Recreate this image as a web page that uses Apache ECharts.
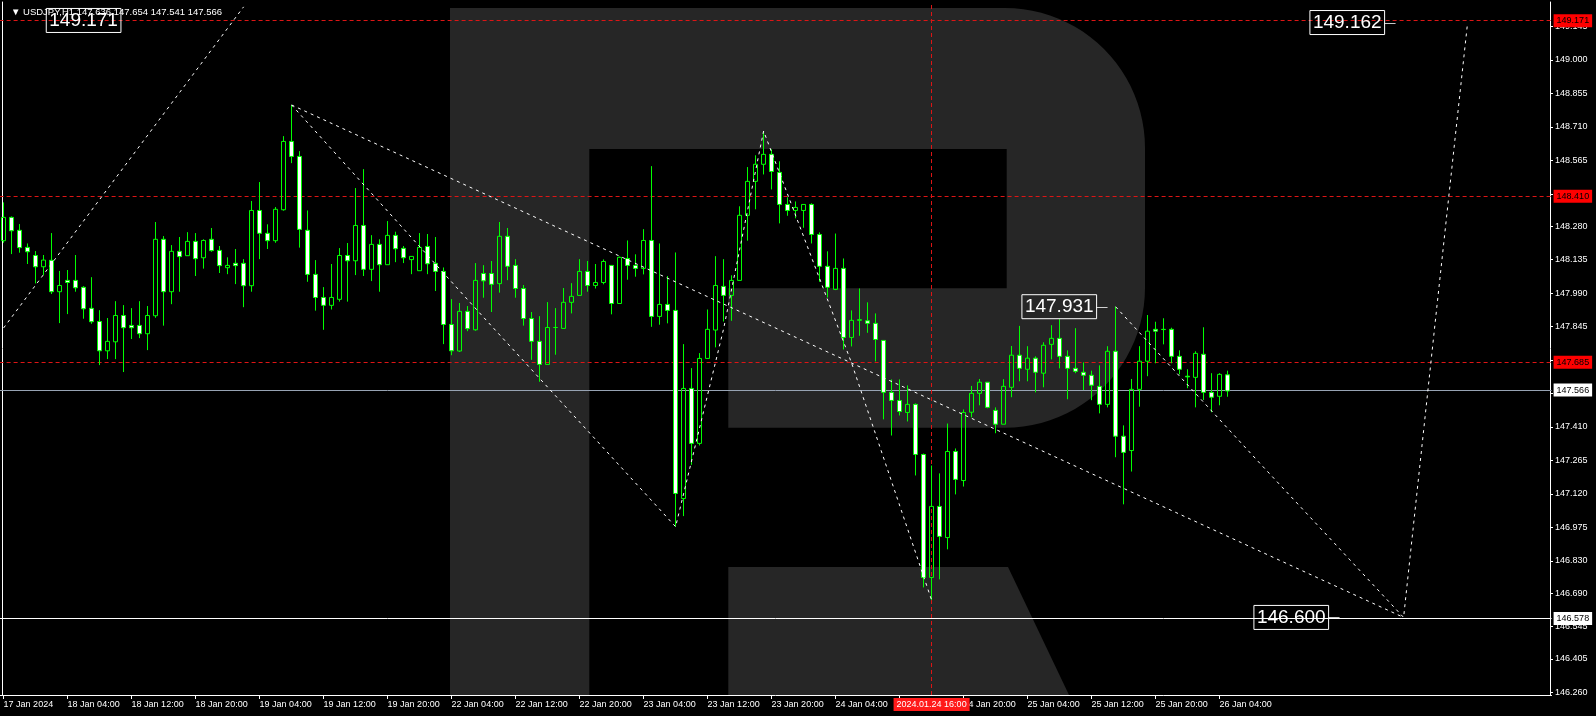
<!DOCTYPE html>
<html><head><meta charset="utf-8">
<script src="https://cdn.jsdelivr.net/npm/echarts@6/dist/echarts.min.js"></script>
<style>html,body{margin:0;padding:0;background:#000;}#c{width:1596px;height:716px;}</style>
</head><body><div id="c"></div>
<script>
// ---------- data ----------
const symbolName = 'USDJPY,H1';
const yearLabel = '2024';
const opens = [148.217,148.318,148.262,148.188,148.153,148.104,148.132,147.996,148.045,148.045,
148.015,147.924,147.867,147.740,147.779,147.893,147.850,147.850,147.814,147.892,
148.223,147.996,148.171,148.152,148.214,148.143,148.223,148.175,148.100,148.119,
148.119,148.022,148.348,148.249,148.217,148.351,148.647,148.582,148.262,148.071,
147.971,147.937,147.963,148.153,148.130,148.283,148.093,148.201,148.113,148.240,
148.184,148.135,148.087,148.192,148.119,148.084,147.854,147.739,147.911,147.831,
148.075,148.075,148.031,148.236,148.110,148.010,147.880,147.781,147.681,147.841,
147.837,147.950,147.980,148.084,148.023,148.036,148.110,147.945,148.140,148.110,
148.097,148.218,147.889,147.941,147.915,147.100,147.577,147.339,147.707,147.830,
148.019,147.980,148.045,148.327,148.474,148.548,148.591,148.513,148.374,148.348,
148.348,148.374,148.244,148.106,148.006,148.097,147.798,147.872,147.870,147.859,
147.785,147.560,147.525,147.473,147.508,147.291,146.758,147.066,146.931,147.304,
147.178,147.474,147.556,147.604,147.482,147.422,147.582,147.721,147.660,147.708,
147.643,147.768,147.794,147.716,147.664,147.647,147.634,147.586,147.508,147.738,
147.370,147.308,147.573,147.695,147.833,147.833,147.833,147.716,147.630,147.625,
147.725,147.560,147.543,147.636];
const highs = [148.383,148.322,148.289,148.205,148.172,148.155,148.250,148.086,148.090,148.155,
148.020,148.059,147.916,147.882,147.955,147.938,147.925,147.955,147.934,148.298,
148.237,148.198,148.233,148.254,148.250,148.223,148.272,148.194,148.145,148.181,
148.137,148.389,148.471,148.288,148.363,148.670,148.805,148.605,148.348,148.133,
148.016,148.116,148.185,148.207,148.445,148.527,148.241,148.223,148.302,148.256,
148.194,148.150,148.250,148.246,148.233,148.101,147.964,147.947,147.934,148.120,
148.111,148.129,148.298,148.272,148.137,148.025,147.908,147.890,147.951,147.925,
148.012,148.033,148.137,148.129,148.116,148.136,148.110,148.148,148.218,148.158,
148.267,148.540,148.205,148.064,148.166,147.769,147.665,147.730,147.919,148.150,
148.137,148.067,148.366,148.536,148.587,148.692,148.613,148.561,148.405,148.387,
148.374,148.379,148.253,148.171,148.248,148.140,147.915,148.010,147.950,147.902,
147.785,147.616,147.616,147.590,147.512,147.295,147.243,147.209,147.425,147.317,
147.486,147.588,147.618,147.605,147.495,147.617,147.761,147.848,147.760,147.716,
147.777,147.851,147.877,147.742,147.838,147.690,147.654,147.677,147.760,147.931,
147.417,147.618,147.760,147.895,147.866,147.881,147.840,147.742,147.660,147.738,
147.842,147.643,147.643,147.654];
const lows = [148.208,148.159,148.165,148.116,148.032,148.068,147.986,147.860,147.899,147.996,
147.879,147.857,147.678,147.704,147.704,147.648,147.791,147.795,147.743,147.883,
147.849,147.942,147.996,148.152,148.064,148.096,148.169,148.077,148.072,148.029,
147.929,147.996,148.137,148.181,148.208,148.347,148.553,148.187,148.039,147.914,
147.831,147.919,147.953,147.953,148.068,148.064,148.042,147.996,148.113,148.124,
148.120,148.072,148.087,148.072,147.999,147.769,147.721,147.735,147.825,147.827,
147.970,147.908,147.992,148.046,147.970,147.849,147.701,147.606,147.681,147.723,
147.837,147.902,147.980,147.996,148.010,148.028,147.898,147.945,148.048,148.061,
148.071,147.844,147.853,147.859,146.978,147.024,147.246,147.330,147.707,147.755,
147.867,147.870,148.045,148.217,148.353,148.504,148.439,148.292,148.325,148.314,
148.273,148.205,148.039,147.971,148.003,147.746,147.759,147.805,147.818,147.694,
147.443,147.373,147.460,147.434,147.200,146.715,146.660,146.750,146.880,147.118,
147.152,147.452,147.504,147.491,147.383,147.422,147.539,147.608,147.608,147.560,
147.582,147.703,147.664,147.530,147.643,147.570,147.526,147.469,147.495,147.279,
147.075,147.217,147.498,147.630,147.686,147.768,147.686,147.638,147.578,147.495,
147.527,147.474,147.504,147.541];
const closes = [148.318,148.260,148.187,148.169,148.104,148.133,147.996,148.023,148.036,148.013,
147.922,147.866,147.740,147.781,147.893,147.840,147.840,147.814,147.893,148.223,
147.996,148.171,148.148,148.214,148.139,148.218,148.174,148.109,148.110,148.109,
148.022,148.348,148.249,148.217,148.353,148.647,148.582,148.266,148.071,147.971,
147.937,147.971,148.153,148.130,148.283,148.093,148.201,148.113,148.240,148.182,
148.143,148.149,148.188,148.117,148.084,147.854,147.740,147.911,147.836,148.045,
148.043,148.028,148.236,148.106,148.010,147.880,147.781,147.681,147.841,147.841,
147.950,147.976,148.084,148.023,148.036,148.127,147.945,148.145,148.110,148.097,
148.218,147.889,147.941,147.915,147.122,147.577,147.339,147.707,147.833,148.023,
147.980,148.045,148.327,148.474,148.548,148.591,148.517,148.374,148.348,148.361,
148.374,148.244,148.106,148.015,148.097,147.798,147.872,147.875,147.859,147.789,
147.560,147.525,147.477,147.508,147.291,146.758,147.066,146.936,147.304,147.183,
147.473,147.556,147.604,147.495,147.422,147.586,147.721,147.664,147.708,147.647,
147.764,147.794,147.716,147.664,147.651,147.634,147.591,147.508,147.738,147.370,
147.300,147.573,147.695,147.825,147.825,147.832,147.716,147.660,147.627,147.729,
147.560,147.539,147.638,147.566];

// price axis tick labels
const yTicks = [149.145,149.000,148.855,148.710,148.565,148.420,148.280,148.135,147.990,147.845,
147.700,147.555,147.410,147.265,147.120,146.975,146.830,146.690,146.545,146.405,146.260];
const yMin = 146.249, yMax = 149.251;

// horizontal levels
const redLevels = [149.171, 148.410, 147.685];
const bidLevel = 147.566;
const supportLevel = 146.578;
const crossBarIndex = 116;

// wave / forecast paths: [bar index, price]
const waveOld = [[0,147.839],[30,149.230]];
const waveMain = [[36,148.805],[60,147.885],[84,146.978],[90,147.835],[95,148.692],[106,147.687],[116,146.660]];
const waveTrend = [[36,148.805],[175,146.585]];
const waveForecast = [[139,147.931],[157,147.254],[175,146.585],[179,147.880],[183,149.162]];

// boxed price tags: text, anchor bar, anchor price, connector dash
const priceTags = [
  {text:'149.171', at:10,  price:149.171, dash:false},
  {text:'147.931', at:138, price:147.931, dash:true},
  {text:'149.162', at:174, price:149.162, dash:true},
  {text:'146.600', at:167, price:146.585, dash:true}
];

const barCount = 194; // visible hourly slots incl. future space

// ---------- build ----------
const MON = ['Jan','Feb','Mar','Apr','May','Jun','Jul','Aug','Sep','Oct','Nov','Dec'];
const times = [];
let t = Date.UTC(2024,0,17,20);
while (times.length < barCount) {
  const wd = new Date(t).getUTCDay();
  if (wd !== 0 && wd !== 6) times.push(t);
  t += 3600e3;
}
const p2 = n => String(n).padStart(2,'0');
const cats = times.map(ms => { const d = new Date(ms); return d.getUTCDate()+' '+MON[d.getUTCMonth()]+' '+p2(d.getUTCHours())+':'+p2(d.getUTCMinutes()); });
const lastIdx = opens.length - 1;
const crossDate = new Date(times[crossBarIndex]);
const crossLabel = crossDate.getUTCFullYear()+'.'+p2(crossDate.getUTCMonth()+1)+'.'+p2(crossDate.getUTCDate())+' '+p2(crossDate.getUTCHours())+':'+p2(crossDate.getUTCMinutes());

const FONT = '"Liberation Sans", Arial, sans-serif';
const RED = '#dd1515';

const candles = opens.map((o,i) => [o, closes[i], lows[i], highs[i]]);
const showTick = (idx) => idx % 8 === 0 && idx <= lastIdx;

const tagLabelBase = {fontFamily: FONT, fontSize: 9, padding: [2,3,1,3], lineHeight: 10};

const header = '\u25BC ' + symbolName + ' ' + [opens[lastIdx], highs[lastIdx], lows[lastIdx], closes[lastIdx]].map(v=>v.toFixed(3)).join(' ');

// watermark logo outline (decorative)
function arcPts(cx, cy, r, a0, a1, n){
  const out = [];
  for (let k=0;k<=n;k++){ const a = a0 + (a1-a0)*k/n; out.push([cx + r*Math.cos(a), cy + r*Math.sin(a)]); }
  return out;
}
const logoBody = [[450,8],[1005,8], ...arcPts(1005,148,140,-Math.PI/2,0,24), [1145,287.7], ...arcPts(1005,287.7,140,0,Math.PI/2,24),
  [728.3,427.7],[728.3,288.3],[1006.7,288.3],[1006.7,149],[589.3,149],[589.3,695],[450,695]];
const logoLeg = [[728.3,567],[1008,567],[1069,695],[728.3,695]];

const dotted = {color:'#fff', width:1, type:[3,4]};
function waveSeries(data, withSymbols){
  return {type:'line', data, xAxisIndex:0, yAxisIndex:0, silent:true, z:4,
    lineStyle: dotted, showSymbol: withSymbols, symbol:'triangle', symbolSize:6,
    itemStyle:{color:'#fff'}, clip:true};
}
function levelLine(v, color, type, bg, fg){
  return {yAxis:v, lineStyle:{color, type, width:1},
    label:{show:true, position:'end', distance:2, formatter:()=>v.toFixed(3), color:fg, backgroundColor:bg, ...tagLabelBase}};
}

const chart = echarts.init(document.getElementById('c'), null, {renderer:'canvas'});
chart.setOption({
  animation:false,
  backgroundColor:'#000',
  title:{text: header, left:6, top:2, textStyle:{color:'#fff', fontSize:9.5, fontWeight:'normal', fontFamily: FONT}},
  graphic:[
    {type:'polygon', z:-5, silent:true, shape:{points:logoBody}, style:{fill:'#262626'}},
    {type:'polygon', z:-5, silent:true, shape:{points:logoLeg}, style:{fill:'#262626'}}
  ],
  grid:{left:-0.4, right:44.4, top:2, bottom:21, outerBoundsMode:'none', containLabel:false},
  xAxis:{type:'category', data:cats, boundaryGap:true,
    axisLine:{show:true, onZero:false, lineStyle:{color:'#fff', width:1}},
    axisTick:{show:true, alignWithLabel:true, interval:(i)=>showTick(i), length:4, lineStyle:{color:'#fff'}},
    axisLabel:{show:true, interval:(i)=>showTick(i), color:'#fff', fontSize:9, fontFamily:FONT, align:'left', margin:5,
      formatter:(v,i)=> i===0 ? v.split(' ').slice(0,2).join(' ')+' '+yearLabel : v},
    splitLine:{show:false}},
  yAxis:[
    {type:'value', position:'right', min:yMin, max:yMax, offset:-1.6,
     axisLine:{show:true, lineStyle:{color:'#fff'}},
     axisTick:{show:true, customValues:yTicks, length:3, lineStyle:{color:'#fff'}},
     axisLabel:{show:true, customValues:yTicks, color:'#fff', fontSize:9, fontFamily:FONT, margin:5, formatter:v=>v.toFixed(3)},
     splitLine:{show:false}},
    {type:'value', position:'left', min:yMin, max:yMax, offset:-2.4,
     axisLine:{show:true, lineStyle:{color:'#fff'}}, axisTick:{show:false}, axisLabel:{show:false}, splitLine:{show:false}}
  ],
  series:[
    {type:'candlestick', data:candles, barWidth:4, z:3, silent:true,
     itemStyle:{color:'transparent', color0:'#ffffff', borderColor:'#00ff00', borderColor0:'#00ff00', borderWidth:1},
     markLine:{silent:true, symbol:['none','none'], animation:false, z:2,
       data:[
         ...redLevels.map(v=>levelLine(v, RED, [4,3], '#ff0000', '#000')),
         levelLine(bidLevel, '#97a3b3', 'solid', '#ffffff', '#000'),
         levelLine(supportLevel, '#ffffff', 'solid', '#ffffff', '#000'),
         {xAxis:cats[crossBarIndex], lineStyle:{color:RED, type:[4,3], width:1},
           label:{show:true, position:'start', distance:3, formatter:crossLabel, color:'#fff', backgroundColor:'#ff1a1a', ...tagLabelBase}}
       ]},
     markPoint:{silent:true, symbol:'rect', symbolSize:0, animation:false,
       data: priceTags.map(tg=>({coord:[tg.at, tg.price],
         label:{show:true, position:'inside', align: tg.dash ? 'right' : 'center', verticalAlign:'middle',
           formatter: tg.dash ? '{b|'+tg.text+'}{d|\u2014}' : '{b|'+tg.text+'}',
           rich:{
             b:{fontFamily:FONT, fontSize:19, color:'#fff', borderColor:'#fff', borderWidth:1, padding:[3,3,2,3], lineHeight:19},
             d:{fontFamily:FONT, fontSize:11, color:'#fff', padding:[0,0,0,0]}
           }}}))}
    },
    waveSeries(waveOld, false),
    waveSeries(waveMain, true),
    waveSeries(waveTrend, false),
    waveSeries(waveForecast, true)
  ]
});
</script>
</body></html>
